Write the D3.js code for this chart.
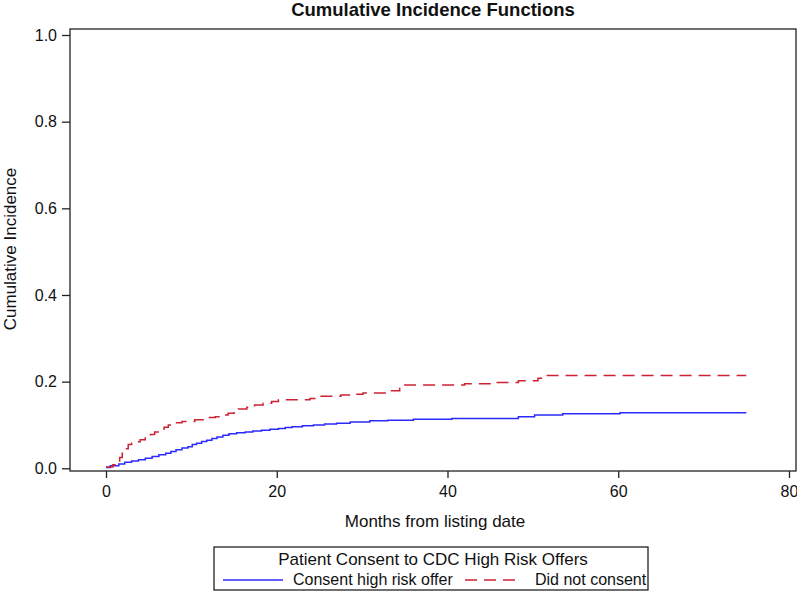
<!DOCTYPE html>
<html>
<head>
<meta charset="utf-8">
<script src="https://cdn.jsdelivr.net/npm/d3@7"></script>
<style>
  html, body { margin: 0; padding: 0; background: #fff; }
  svg { display: block; font-family: Arial, "Liberation Sans", sans-serif; }
</style>
</head>
<body>
<svg id="chart" width="797" height="592"></svg>
<script>
// ---- data ----
const chartTitle = "Cumulative Incidence Functions";
const xLabel = "Months from listing date";
const yLabel = "Cumulative Incidence";
const legendTitle = "Patient Consent to CDC High Risk Offers";
const seriesNames = ["Consent high risk offer", "Did not consent"];
const xTicks = [0, 20, 40, 60, 80];
const yTicks = [0.0, 0.2, 0.4, 0.6, 0.8, 1.0];

const consentTimes = [0, 0.5, 1.5, 2.2, 3.0, 3.8, 4.6, 5.4, 6.2, 7.0, 7.6, 8.2, 8.9, 9.6, 10.1, 10.6, 11.2, 11.8, 12.4, 13.0, 13.7, 14.4, 15.3, 16.3, 17.2, 18.2, 19.2, 20.2, 21.0, 21.8, 23.0, 24.3, 25.6, 27.0, 28.6, 30.9, 33.0, 36.0, 40.5, 48.3, 50.2, 53.5, 60.2, 75];
const consentValues = [0.002, 0.006, 0.010, 0.014, 0.017, 0.020, 0.023, 0.027, 0.031, 0.035, 0.039, 0.043, 0.047, 0.050, 0.055, 0.058, 0.062, 0.065, 0.069, 0.072, 0.076, 0.080, 0.082, 0.084, 0.086, 0.088, 0.090, 0.092, 0.094, 0.096, 0.098, 0.100, 0.102, 0.104, 0.107, 0.110, 0.111, 0.113, 0.115, 0.119, 0.123, 0.126, 0.128, 0.128];

const noConsentTimes = [0, 0.8, 1.2, 1.6, 1.9, 2.3, 2.6, 3.0, 3.4, 4.0, 4.6, 5.2, 5.7, 6.3, 6.8, 7.3, 8.1, 8.9, 10.4, 11.6, 12.8, 13.6, 14.3, 15.0, 15.5, 16.5, 17.4, 18.4, 19.4, 20.2, 23.9, 25.1, 27.5, 28.6, 30.1, 32.9, 34.4, 42.0, 45.5, 48.3, 50.6, 51.0, 75];
const noConsentValues = [0.003, 0.008, 0.015, 0.025, 0.035, 0.045, 0.055, 0.058, 0.061, 0.066, 0.072, 0.078, 0.084, 0.090, 0.095, 0.100, 0.105, 0.108, 0.112, 0.117, 0.119, 0.123, 0.127, 0.133, 0.137, 0.141, 0.146, 0.150, 0.154, 0.158, 0.161, 0.166, 0.169, 0.171, 0.174, 0.179, 0.192, 0.195, 0.198, 0.202, 0.208, 0.214, 0.214];

const colors = ["#2b2bff", "#cc2233"];

// ---- layout ----
const svg = d3.select("#chart");
const frame = { left: 70, top: 29, right: 796, bottom: 471 };

const x = d3.scaleLinear().domain([0, 80]).range([106, 789]);
const y = d3.scaleLinear().domain([0, 1]).range([468.3, 35]);

// title
svg.append("text")
  .attr("x", 433).attr("y", 16)
  .attr("text-anchor", "middle")
  .attr("font-size", 18.5).attr("font-weight", "bold").attr("fill", "#111")
  .text(chartTitle);

// frame
svg.append("rect")
  .attr("x", frame.left).attr("y", frame.top)
  .attr("width", frame.right - frame.left)
  .attr("height", frame.bottom - frame.top)
  .attr("fill", "none").attr("stroke", "#222").attr("stroke-width", 1.3);

// axes
const yAxis = d3.axisLeft(y).tickValues(yTicks).tickFormat(d3.format(".1f")).tickSize(8).tickPadding(5);
const gy = svg.append("g").attr("transform", `translate(${frame.left},0)`).call(yAxis);
const xAxis = d3.axisBottom(x).tickValues(xTicks).tickFormat(d3.format("d")).tickSize(7).tickPadding(8);
const gx = svg.append("g").attr("transform", `translate(0,${frame.bottom})`).call(xAxis);
[gx, gy].forEach(g => {
  g.select(".domain").remove();
  g.selectAll(".tick line").attr("stroke", "#222").attr("stroke-width", 1.3);
  g.selectAll(".tick text").attr("font-size", 16).attr("fill", "#111")
    .attr("font-family", "Arial, 'Liberation Sans', sans-serif");
});

// axis labels
svg.append("text")
  .attr("x", 435).attr("y", 527)
  .attr("text-anchor", "middle").attr("font-size", 17).attr("fill", "#111")
  .text(xLabel);
svg.append("text")
  .attr("transform", `translate(16,249) rotate(-90)`)
  .attr("text-anchor", "middle").attr("font-size", 17).attr("fill", "#111")
  .text(yLabel);

// curves
const line = d3.line()
  .x(d => x(d[0])).y(d => y(d[1]))
  .curve(d3.curveStepAfter);
const series = [
  { pts: d3.zip(consentTimes, consentValues), color: colors[0], dash: null },
  { pts: d3.zip(noConsentTimes, noConsentValues), color: colors[1], dash: "12,7" }
];
series.forEach(s => {
  svg.append("path")
    .datum(s.pts)
    .attr("d", line)
    .attr("fill", "none")
    .attr("stroke", s.color)
    .attr("stroke-width", 1.5)
    .attr("stroke-dasharray", s.dash);
});

// legend
const lg = svg.append("g");
lg.append("rect")
  .attr("x", 214).attr("y", 547).attr("width", 434).attr("height", 43)
  .attr("fill", "none").attr("stroke", "#222").attr("stroke-width", 1.3);
lg.append("text")
  .attr("x", 433).attr("y", 565)
  .attr("text-anchor", "middle").attr("font-size", 17).attr("fill", "#111")
  .text(legendTitle);
const entries = [
  { x1: 223, x2: 283, tx: 293, color: colors[0], dash: null, label: seriesNames[0] },
  { x1: 465, x2: 522, tx: 535, color: colors[1], dash: "12,7", label: seriesNames[1] }
];
entries.forEach(e => {
  lg.append("line")
    .attr("x1", e.x1).attr("x2", e.x2).attr("y1", 580).attr("y2", 580)
    .attr("stroke", e.color).attr("stroke-width", 1.5)
    .attr("stroke-dasharray", e.dash);
  lg.append("text")
    .attr("x", e.tx).attr("y", 584.5)
    .attr("font-size", 16).attr("fill", "#111")
    .text(e.label);
});
</script>
</body>
</html>
